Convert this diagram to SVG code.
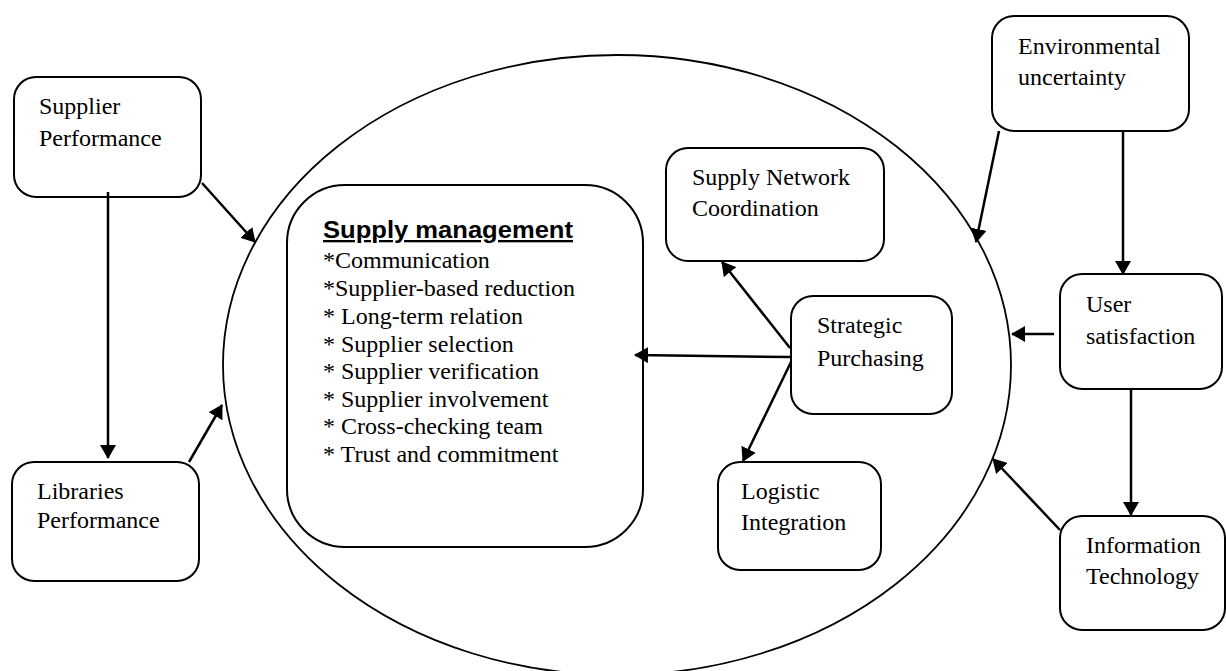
<svg xmlns="http://www.w3.org/2000/svg" width="1226" height="671" viewBox="0 0 1226 671">
<style>
.box{fill:#fff;stroke:#000;stroke-width:2}
.t{font-family:"Liberation Serif","Times New Roman",serif;font-size:24px;fill:#000}
.h{font-family:"Liberation Sans",Arial,sans-serif;font-size:23px;font-weight:bold;fill:#000;text-decoration:underline}
.c{stroke:#000;stroke-width:2.5;fill:none;marker-end:url(#ah)}
</style>
<defs>
<marker id="ah" viewBox="0 0 14 16" markerWidth="14" markerHeight="16" refX="13" refY="8" orient="auto" markerUnits="userSpaceOnUse">
<path d="M0,0 L14,8 L0,16 Z" fill="#000"/>
</marker>
</defs>
<rect width="1226" height="671" fill="#fff"/>
<g id="ellipse">
<ellipse cx="617" cy="365" rx="394" ry="310" fill="none" stroke="#000" stroke-width="1.8"/>
</g>
<g id="supply-management">
<rect class="box" x="287" y="185" width="356" height="362" rx="58" ry="58"/>
<text class="h" x="323" y="238" textLength="250" lengthAdjust="spacingAndGlyphs">Supply management</text>
<text class="t" x="323" y="268">*Communication</text>
<text class="t" x="323" y="296">*Supplier-based reduction</text>
<text class="t" x="323" y="324">* Long-term relation</text>
<text class="t" x="323" y="352">* Supplier selection</text>
<text class="t" x="323" y="379">* Supplier verification</text>
<text class="t" x="323" y="407">* Supplier involvement</text>
<text class="t" x="323" y="434">* Cross-checking team</text>
<text class="t" x="323" y="462">* Trust and commitment</text>
</g>
<g id="supplier-performance">
<rect class="box" x="14" y="77" width="187" height="120" rx="22" ry="22"/>
<text class="t" x="39" y="114">Supplier</text>
<text class="t" x="39" y="146">Performance</text>
</g>
<g id="libraries-performance">
<rect class="box" x="12" y="462" width="187" height="119" rx="22" ry="22"/>
<text class="t" x="37" y="499">Libraries</text>
<text class="t" x="37" y="528">Performance</text>
</g>
<g id="supply-network-coordination">
<rect class="box" x="666" y="148" width="218" height="113" rx="22" ry="22"/>
<text class="t" x="692" y="185">Supply Network</text>
<text class="t" x="692" y="216">Coordination</text>
</g>
<g id="strategic-purchasing">
<rect class="box" x="791" y="296" width="161" height="118" rx="22" ry="22"/>
<text class="t" x="817" y="333">Strategic</text>
<text class="t" x="817" y="366">Purchasing</text>
</g>
<g id="logistic-integration">
<rect class="box" x="718" y="462" width="163" height="108" rx="22" ry="22"/>
<text class="t" x="741" y="499">Logistic</text>
<text class="t" x="741" y="530">Integration</text>
</g>
<g id="environmental-uncertainty">
<rect class="box" x="992" y="16" width="197" height="115" rx="22" ry="22"/>
<text class="t" x="1018" y="54">Environmental</text>
<text class="t" x="1018" y="85">uncertainty</text>
</g>
<g id="user-satisfaction">
<rect class="box" x="1060" y="274" width="162" height="115" rx="22" ry="22"/>
<text class="t" x="1086" y="312">User</text>
<text class="t" x="1086" y="344">satisfaction</text>
</g>
<g id="information-technology">
<rect class="box" x="1060" y="516" width="165" height="114" rx="22" ry="22"/>
<text class="t" x="1086" y="553">Information</text>
<text class="t" x="1086" y="584">Technology</text>
</g>
<g id="connectors">
<line class="c" x1="108" y1="192" x2="108" y2="458"/>
<line class="c" x1="202" y1="183" x2="255" y2="242"/>
<line class="c" x1="189" y1="462" x2="222" y2="405"/>
<line class="c" x1="790" y1="357" x2="635" y2="355"/>
<line class="c" x1="790" y1="348" x2="722" y2="262"/>
<line class="c" x1="791" y1="362" x2="743" y2="461"/>
<line class="c" x1="999" y1="131" x2="976" y2="242"/>
<line class="c" x1="1123" y1="131" x2="1123" y2="274"/>
<line class="c" x1="1054" y1="334" x2="1012" y2="334"/>
<line class="c" x1="1131" y1="389" x2="1131" y2="515"/>
<line class="c" x1="1060" y1="530" x2="993" y2="459"/>
</g>
</svg>
